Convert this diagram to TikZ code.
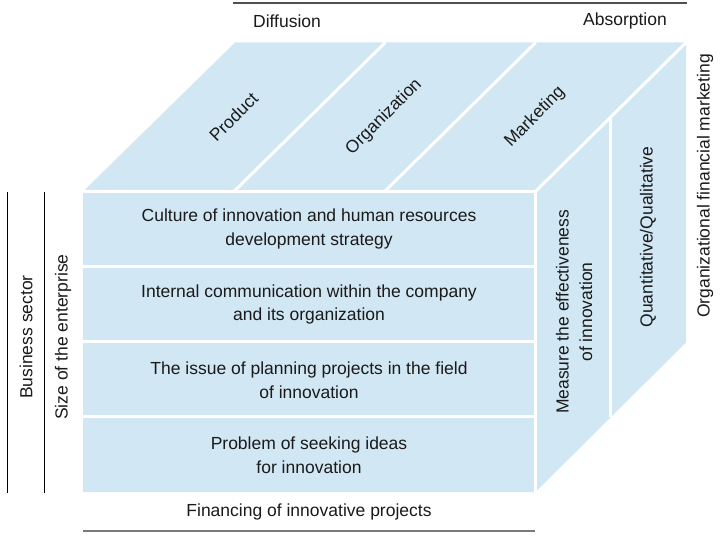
\documentclass[tikz,border=0pt]{standalone}
\usepackage{fontspec}
\setmainfont{Liberation Sans}
\usetikzlibrary{calc}
\definecolor{cubefill}{HTML}{D2E7F4}
\definecolor{txt}{HTML}{1A1A1A}
\definecolor{topgray}{HTML}{505050}
\definecolor{botgray}{HTML}{7A7A7A}
\begin{document}
\begin{tikzpicture}[x=1pt,y=-1pt,
  every node/.style={font=\fontsize{17.5}{23.5}\selectfont, text=txt, align=center, inner sep=0pt},
  sep/.style={white, line width=3pt},
  siderule/.style={black, line width=1pt},
  toprule/.style={topgray, line width=1.3pt},
  botrule/.style={botgray, line width=2.5pt}]
\useasboundingbox (0,0) rectangle (722,535);
% cube corners
\coordinate (FTL) at (83,191.5);
\coordinate (FTR) at (535.5,191.5);
\coordinate (FBL) at (83,492);
\coordinate (FBR) at (535.5,492);
\coordinate (BTL) at (235,42.5);
\coordinate (BTR) at (686,42.5);
\coordinate (BBR) at (686,342.5);
% fill
\fill[cubefill] (FBL) -- (FTL) -- (BTL) -- (BTR) -- (BBR) -- (FBR) -- cycle;
% separators
\draw[sep] (FTL) -- (FTR) -- (FBR);
\draw[sep] (FTR) -- (BTR);
\foreach \f in {0.25,0.5,0.75}
  \draw[sep] ($(FTL)!\f!(FBL)$) -- ($(FTR)!\f!(FBR)$);
\foreach \f in {0.3333,0.6667}
  \draw[sep] ($(FTL)!\f!(FTR)$) -- ($(BTL)!\f!(BTR)$);
\draw[sep] ($(FTR)!0.5!(BTR)$) -- ($(FBR)!0.5!(BBR)$);
% top labels
\node (diff) at (287,21) {Diffusion};
\node (abs) at (625,21) {Absorption};
\coordinate (tl1) at (233,3);
\coordinate (tl2) at (687,3);
\draw[toprule] (tl1) -- (tl2);
% top face
\node[rotate=45] (prod) at (233.5,117) {Product};
\node[rotate=45] (orga) at (384,117) {Organization};
\node[rotate=45] (mark) at (535,117) {Marketing};
% front face
\node (r1) at (309,229) {Culture of innovation and human resources\\development strategy};
\node (r2) at (309,304.5) {Internal communication within the company\\and its organization};
\node (r3) at (309,380) {The issue of planning projects in the field\\of innovation};
\node (r4) at (309,455) {Problem of seeking ideas\\for innovation};
% right face
\node[rotate=90] (meas) at (574,312) {Measure the effectiveness\\of innovation};
\node[rotate=90] (quant) at (648,237) {Quantitative/Qualitative};
\node[rotate=90] (orgfin) at (705,186) {Organizational financial marketing};
% left
\node[rotate=90] (bs) at (26,337) {Business sector};
\node[rotate=90] (size) at (63,337) {Size of the enterprise};
\coordinate (l1a) at (7,192);
\coordinate (l1b) at (7,493);
\coordinate (l2a) at (44,192);
\coordinate (l2b) at (44,493);
\draw[siderule] (l1a) -- (l1b);
\draw[siderule] (l2a) -- (l2b);
% bottom
\node (fin) at (309,512) {Financing of innovative projects};
\coordinate (bl1) at (83,531);
\coordinate (bl2) at (535,531);
\draw[botrule] (bl1) -- (bl2);
\end{tikzpicture}
\end{document}
